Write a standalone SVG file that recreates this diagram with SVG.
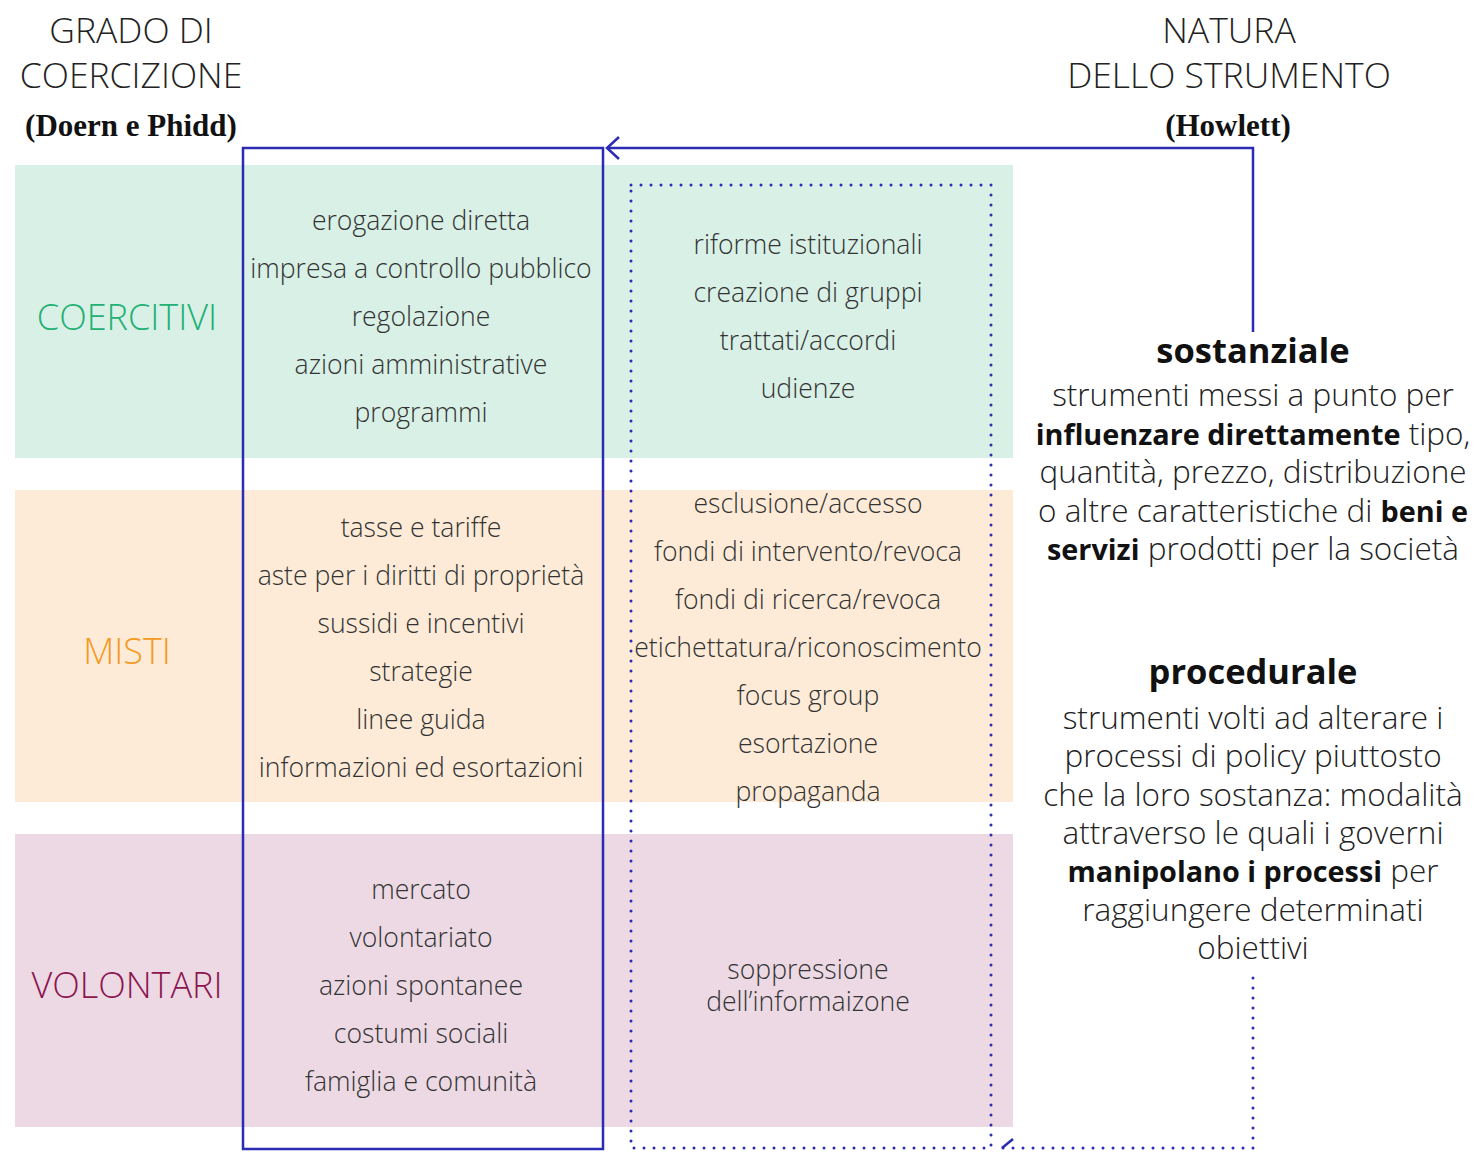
<svg xmlns="http://www.w3.org/2000/svg" width="1480" height="1152" viewBox="0 0 1480 1152">
  <defs>
    <style>
      .t { font-family: "Open Sans", "Noto Sans", "Liberation Sans", sans-serif; font-weight: 300; fill: #333333; text-anchor: middle; }
      .cell { font-size: 26.6px; }
      .head { font-size: 35.5px; fill: #222222; }
      .src { font-family: "Liberation Serif", serif; font-weight: 700; font-size: 31px; fill: #111111; text-anchor: middle; }
      .cat { font-size: 36px; }
      .ttl { font-family: "Open Sans", "Noto Sans", "Liberation Sans", sans-serif; font-weight: 700; font-size: 34.5px; fill: #111111; text-anchor: middle; }
      .body { font-size: 31.5px; fill: #222222; }
      .b { font-weight: 700; font-size: 28.8px; fill: #111111; }
      .solid { fill: none; stroke: #2b2bb3; stroke-width: 2.5; }
      .dots { fill: none; stroke: #2b2bb3; stroke-width: 3; stroke-dasharray: 0 10; stroke-linecap: round; }
    </style>
  </defs>

  <rect width="1480" height="1152" fill="#ffffff"/>

  <!-- horizontal bands -->
  <g id="bands">
    <rect x="15" y="165" width="998" height="293" fill="#d8f0e5"/>
    <rect x="15" y="490" width="998" height="312" fill="#fdebd7"/>
    <rect x="15" y="834" width="998" height="293" fill="#ecd9e3"/>
  </g>

  <!-- column headers -->
  <g id="header-left">
    <text class="t head" x="131" y="43">GRADO DI</text>
    <text class="t head" x="131" y="88">COERCIZIONE</text>
    <text class="src" x="131" y="136">(Doern e Phidd)</text>
  </g>
  <g id="header-right">
    <text class="t head" x="1229" y="43">NATURA</text>
    <text class="t head" x="1229" y="88">DELLO STRUMENTO</text>
    <text class="src" x="1228" y="136">(Howlett)</text>
  </g>

  <!-- category labels -->
  <g id="cat-coercitivi"><text class="t cat" x="127" y="330" style="fill:#22b074">COERCITIVI</text></g>
  <g id="cat-misti"><text class="t cat" x="127" y="664" style="fill:#f39a1e">MISTI</text></g>
  <g id="cat-volontari"><text class="t cat" x="127" y="998" style="fill:#8c1550">VOLONTARI</text></g>

  <!-- substantive column -->
  <g id="col-sostanziale">
    <rect x="243" y="148" width="360" height="1001" class="solid"/>
    <g class="t cell">
      <text x="421" y="230">erogazione diretta</text>
      <text x="421" y="278">impresa a controllo pubblico</text>
      <text x="421" y="326">regolazione</text>
      <text x="421" y="374">azioni amministrative</text>
      <text x="421" y="422">programmi</text>

      <text x="421" y="537">tasse e tariffe</text>
      <text x="421" y="585">aste per i diritti di proprietà</text>
      <text x="421" y="633">sussidi e incentivi</text>
      <text x="421" y="681">strategie</text>
      <text x="421" y="729">linee guida</text>
      <text x="421" y="777">informazioni ed esortazioni</text>

      <text x="421" y="899">mercato</text>
      <text x="421" y="947">volontariato</text>
      <text x="421" y="995">azioni spontanee</text>
      <text x="421" y="1043">costumi sociali</text>
      <text x="421" y="1091">famiglia e comunità</text>
    </g>
  </g>

  <!-- procedural column -->
  <g id="col-procedurale">
    <rect x="631" y="185" width="360" height="963" class="dots"/>
    <g class="t cell">
      <text x="808" y="254">riforme istituzionali</text>
      <text x="808" y="302">creazione di gruppi</text>
      <text x="808" y="350">trattati/accordi</text>
      <text x="808" y="398">udienze</text>

      <text x="808" y="513">esclusione/accesso</text>
      <text x="808" y="561">fondi di intervento/revoca</text>
      <text x="808" y="609">fondi di ricerca/revoca</text>
      <text x="808" y="657">etichettatura/riconoscimento</text>
      <text x="808" y="705">focus group</text>
      <text x="808" y="753">esortazione</text>
      <text x="808" y="801">propaganda</text>

      <text x="808" y="979">soppressione</text>
      <text x="808" y="1011">dell’informaizone</text>
    </g>
  </g>

  <!-- definitions -->
  <g id="def-sostanziale">
    <text class="ttl" x="1253" y="363">sostanziale</text>
    <g class="t body">
      <text x="1253" y="406">strumenti messi a punto per</text>
      <text x="1253" y="445"><tspan class="b">influenzare direttamente</tspan> tipo,</text>
      <text x="1253" y="483">quantità, prezzo, distribuzione</text>
      <text x="1253" y="522">o altre caratteristiche di <tspan class="b">beni e</tspan></text>
      <text x="1253" y="560"><tspan class="b">servizi</tspan> prodotti per la società</text>
    </g>
  </g>
  <g id="def-procedurale">
    <text class="ttl" x="1253" y="684">procedurale</text>
    <g class="t body">
      <text x="1253" y="729">strumenti volti ad alterare i</text>
      <text x="1253" y="767">processi di policy piuttosto</text>
      <text x="1253" y="806">che la loro sostanza: modalità</text>
      <text x="1253" y="844">attraverso le quali i governi</text>
      <text x="1253" y="882"><tspan class="b">manipolano i processi</tspan> per</text>
      <text x="1253" y="921">raggiungere determinati</text>
      <text x="1253" y="959">obiettivi</text>
    </g>
  </g>

  <!-- connectors -->
  <g id="connectors">
    <path d="M1253 332 V148 H607" class="solid"/>
    <path d="M619 137 L607 148 L619 159" class="solid"/>
    <path d="M1253 978 V1148 H1002" class="dots"/>
    <path d="M1013 1139 L1002 1148" fill="none" stroke="#2b2bb3" stroke-width="2.5"/>
  </g>
</svg>
